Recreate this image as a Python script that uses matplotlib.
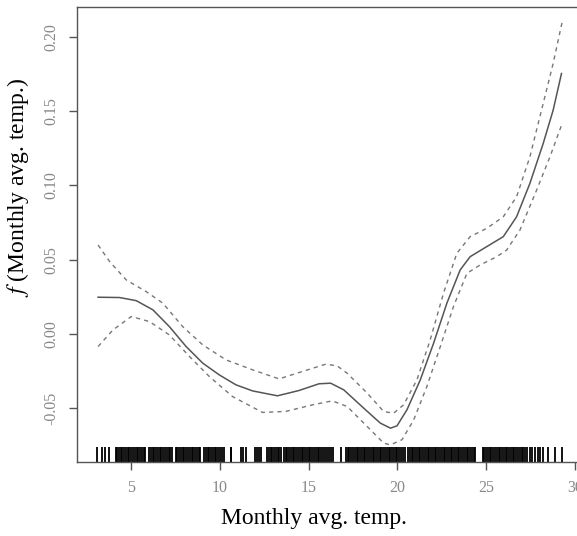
import matplotlib
matplotlib.use("Agg")
import matplotlib.pyplot as plt

plt.rcParams["mathtext.fontset"] = "stix"

# fitted smooth term and its pointwise band
temp = [3.13, 4.34, 5.28, 6.22, 7.15, 8.09, 9.03, 9.96, 10.90, 11.84,
        13.24, 14.46, 15.58, 16.24, 16.98, 18.10, 19.04, 19.61, 19.98, 20.54,
        21.29, 22.04, 22.79, 23.54, 24.10, 25.04, 25.97, 26.72, 27.47, 28.22,
        28.78, 29.25]
fit = [0.0247, 0.0245, 0.0224, 0.0162, 0.0049, -0.0085, -0.0197, -0.0276, -0.0343, -0.0384,
       -0.0417, -0.0381, -0.0336, -0.0332, -0.0377, -0.0500, -0.0601, -0.0635, -0.0619, -0.0511,
       -0.0310, -0.0063, 0.0207, 0.0431, 0.0520, 0.0588, 0.0655, 0.0789, 0.1014, 0.1283,
       0.1507, 0.1754]

temp_up = [3.13, 3.78, 4.72, 5.84, 6.78, 7.90, 9.03, 10.34, 11.84, 13.33,
           14.65, 15.96, 16.60, 17.17, 18.30, 19.23, 19.79, 20.35, 21.10, 21.85,
           22.60, 23.35, 24.10, 25.04, 25.97, 26.72, 27.47, 28.22, 28.78, 29.29]
upper = [0.0599, 0.0487, 0.0363, 0.0285, 0.0207, 0.0049, -0.0074, -0.0175, -0.0242, -0.0303,
         -0.0253, -0.0204, -0.0215, -0.0265, -0.0399, -0.0523, -0.0534, -0.0478, -0.0310, -0.0040,
         0.0274, 0.0543, 0.0655, 0.0711, 0.0789, 0.0924, 0.1193, 0.1553, 0.1822, 0.2102]

temp_lo = [3.13, 3.97, 5.00, 6.03, 7.15, 8.28, 9.40, 10.71, 12.40, 13.71,
           15.21, 16.33, 17.17, 18.30, 19.23, 19.61, 20.26, 20.92, 21.66, 22.42,
           23.16, 23.92, 24.66, 25.60, 26.16, 26.91, 27.85, 28.60, 29.29]
lower = [-0.0085, 0.0027, 0.0117, 0.0083, -0.0007, -0.0152, -0.0287, -0.0422, -0.0529, -0.0522,
         -0.0478, -0.0451, -0.0489, -0.0624, -0.0736, -0.0747, -0.0713, -0.0579, -0.0355, -0.0085,
         0.0184, 0.0408, 0.0464, 0.0520, 0.0565, 0.0700, 0.0969, 0.1193, 0.1418]

# observed temperatures shown as the rug
rug = [3.05, 3.33, 3.52, 3.76,
       4.15, 4.2, 4.3, 4.4, 4.5, 4.6, 4.7, 4.8, 4.9, 5.0, 5.1, 5.2, 5.3, 5.4, 5.5,
       5.6, 5.7, 5.8, 6.0, 6.1, 6.2, 6.3, 6.4, 6.5, 6.6, 6.7, 6.8, 6.9, 7.0,
       7.1, 7.2, 7.3, 7.5, 7.6, 7.7, 7.8, 7.9, 8.0, 8.1, 8.2, 8.3, 8.4, 8.5,
       8.6, 8.7, 8.8, 8.9, 9.1, 9.2, 9.3, 9.4, 9.5, 9.6, 9.7, 9.8, 9.9, 10.0,
       10.1, 10.2, 10.6, 10.65, 11.2, 11.3, 11.45, 12.0, 12.1, 12.2, 12.3,
       12.65, 12.75, 12.85, 12.95, 13.05, 13.15, 13.25, 13.35, 13.45, 13.6, 13.7,
       13.8, 13.9, 14.0, 14.1, 14.2, 14.3, 14.4, 14.5, 14.6, 14.7, 14.8, 14.9,
       15.0, 15.1, 15.2, 15.3, 15.4, 15.5, 15.6, 15.7, 15.8, 15.9, 16.05,
       16.15, 16.25, 16.35, 16.8,
       17.1, 17.2, 17.3, 17.4, 17.5, 17.6, 17.7, 17.8, 17.9, 18.0, 18.1, 18.2,
       18.3, 18.4, 18.5, 18.6, 18.7, 18.8, 18.9, 19.0, 19.1, 19.2, 19.3, 19.4,
       19.5, 19.6, 19.7, 19.8, 19.9, 20.0, 20.1, 20.2, 20.3, 20.45, 20.6, 20.7,
       20.8, 20.9, 21.0, 21.1, 21.2, 21.3, 21.4, 21.5, 21.6, 21.7, 21.8, 21.9,
       22.0, 22.1, 22.2, 22.3, 22.4, 22.5, 22.6, 22.7, 22.8, 22.9, 23.0, 23.1,
       23.2, 23.3, 23.4, 23.5, 23.6, 23.7, 23.8, 23.9, 24.0, 24.1, 24.2, 24.3,
       24.4, 24.8, 24.9, 25.0, 25.1, 25.2, 25.3, 25.4, 25.5, 25.6, 25.7, 25.8,
       25.9, 26.0, 26.1, 26.2, 26.3, 26.4, 26.5, 26.6, 26.7, 26.8, 26.9, 27.0,
       27.1, 27.2, 27.3, 27.45, 27.6, 27.75, 27.9, 28.05, 28.2, 28.5, 28.9, 29.3]

x_ticks = [5, 10, 15, 20, 25, 30]
y_ticks = [-0.05, 0.00, 0.05, 0.10, 0.15, 0.20]

fig = plt.figure(figsize=(5.77, 5.36), dpi=100)
ax = fig.add_axes([0.1334, 0.138, 0.880, 0.849])

ax.plot(temp, fit, color="#555555", lw=1.1)
ax.plot(temp_up, upper, color="#777777", lw=1.0, ls=(0, (3, 3)))
ax.plot(temp_lo, lower, color="#777777", lw=1.0, ls=(0, (3, 3)))
ax.vlines(rug, 0, 0.033, transform=ax.get_xaxis_transform(), color="black", lw=1.3)

ax.set_xlim(1.94, 30.56)
ax.set_ylim(-0.0863, 0.2202)
ax.set_xticks(x_ticks)
ax.set_xticklabels([str(v) for v in x_ticks])
ax.set_yticks(y_ticks)
ax.set_yticklabels(["%.2f" % v for v in y_ticks], rotation=90, va="center")

for s in ax.spines.values():
    s.set_color("#555555")
    s.set_linewidth(1.0)
ax.tick_params(direction="out", length=6, width=1.0, color="#555555",
               labelcolor="#888888", labelsize=11.5, pad=7)
for lab in ax.get_xticklabels() + ax.get_yticklabels():
    lab.set_family("Liberation Serif")

ax.set_xlabel("Monthly avg. temp.", family="Liberation Serif", fontsize=17)
ax.set_ylabel(r"$f$ (Monthly avg. temp.)", family="Liberation Serif", fontsize=17)
ax.xaxis.set_label_coords(0.4665, -0.1)
ax.yaxis.set_label_coords(-0.09, 0.604)

fig.savefig("out.png", dpi=100)
